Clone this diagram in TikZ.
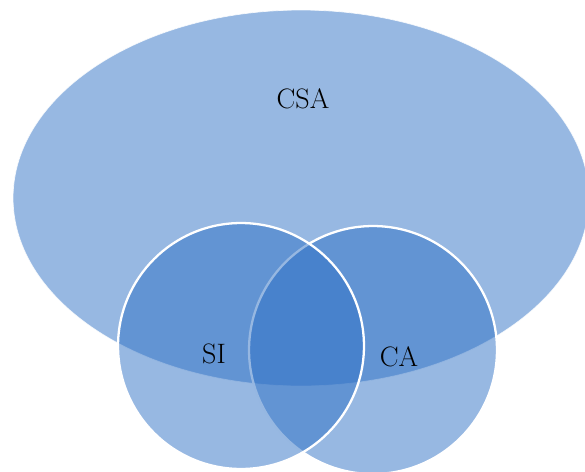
\documentclass[tikz,border=0pt]{standalone}
\usetikzlibrary{shapes.geometric}
\definecolor{setblue}{RGB}{47,113,197}
\begin{document}
\begin{tikzpicture}[x=0.02cm,y=-0.02cm]
        \tikzset{
            setnode/.style={fill=setblue,fill opacity=0.5,draw=white,inner sep=0pt},
            setlabel/.style={text opacity=1,font=\fontsize{16}{19}\selectfont},
        }
        \useasboundingbox (0,0) rectangle (585,471);
        \node[setnode,ellipse,line width=0.4pt,draw opacity=0.8,minimum width=11.52cm,minimum height=7.52cm] (csa) at(301,198) {};
        \node[setnode,circle,line width=1.3pt,minimum size=4.96cm] (ca) at(373,350) {};
        \node[setnode,circle,line width=1.3pt,minimum size=4.92cm] (si) at(241,346) {};

        \node[setlabel] (csalabel) at(303,99) {CSA};
        \node[setlabel] (silabel) at(214,354) {SI};
        \node[setlabel] (calabel) at(399,357) {CA};
    \end{tikzpicture}
\end{document}
